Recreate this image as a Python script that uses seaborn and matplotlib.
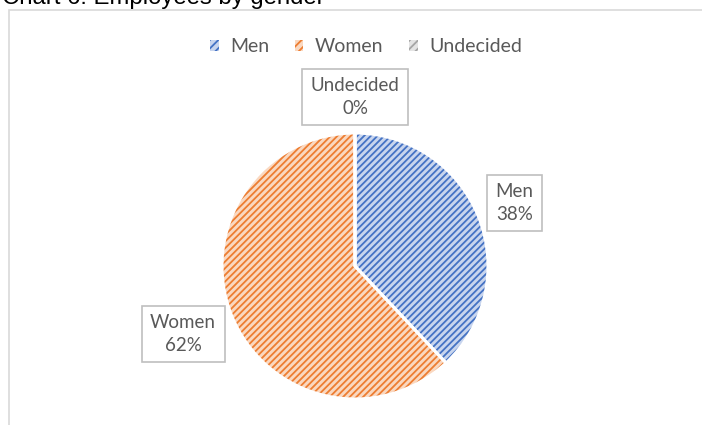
import matplotlib
matplotlib.use("Agg")
import matplotlib.pyplot as plt
import seaborn as sns
import numpy as np
from matplotlib.patches import Patch, Rectangle

# data
genders = ["Men", "Women", "Undecided"]
shares = [38, 62, 0]
pct_labels = ["38%", "62%", "0%"]

dark = ["#4472C4", "#ED7D31", "#A5A5A5"]
light = ["#C8D5EE", "#FAD8C0", "#E4E4E4"]

sns.set_theme(style="white")
plt.rcParams["font.family"] = ["Lato", "DejaVu Sans"]
plt.rcParams["hatch.linewidth"] = 1.3

fig = plt.figure(figsize=(7.02, 4.25), dpi=100)
W, H = 702, 425

# chart border (cut off right/bottom like the source)
fig.patches.append(Rectangle((8.5 / W, -0.1), 1.2, 1 - 9.5 / H + 0.1,
                             transform=fig.transFigure, fill=False,
                             edgecolor="#D9D9D9", linewidth=1.2))

fig.text(2 / W, 1 - 4 / H, "Chart 6: Employees by gender", family="Liberation Sans",
         fontsize=17.2, color="black", va="baseline", ha="left")

cx, cy, r = 355, 266, 133
ax = fig.add_axes([(cx - r) / W, (H - cy - r) / H, 2 * r / W, 2 * r / H])

wedges, _ = ax.pie(shares, colors=light, startangle=90, counterclock=False,
                   wedgeprops=dict(linewidth=0))
for w, c in zip(wedges, dark):
    w.set_hatch("/////")
    w.set_edgecolor(c)
    w.set_linewidth(0)
# white separators
ax.pie(shares, colors=["none"] * 3, startangle=90, counterclock=False,
       wedgeprops=dict(edgecolor="white", linewidth=2.2, fill=False))
ax.set_xlim(-1, 1)
ax.set_ylim(-1, 1)
ax.set_aspect("auto")
ax.axis("off")

# data labels
dists = [1.29, 1.39, 1.27]
for w, g, p, d in zip(wedges, genders, pct_labels, dists):
    ang = np.deg2rad((w.theta1 + w.theta2) / 2)
    ax.text(d * np.cos(ang), d * np.sin(ang), f"{g}\n{p}", ha="center", va="center",
            fontsize=13.5, color="#595959", linespacing=1.4, clip_on=False,
            bbox=dict(boxstyle="square,pad=0.45", fc="white", ec="#BFBFBF", lw=1.2))

handles = [Patch(facecolor=l, edgecolor=d, hatch="////", linewidth=0) for l, d in zip(light, dark)]
fig.legend(handles, genders, loc="center", bbox_to_anchor=(366 / W, 1 - 47 / H), ncol=3,
           frameon=False, fontsize=14, labelcolor="#595959", handlelength=0.45,
           handleheight=0.45, handletextpad=0.6, columnspacing=1.3)

fig.savefig("out.png", dpi=100)
